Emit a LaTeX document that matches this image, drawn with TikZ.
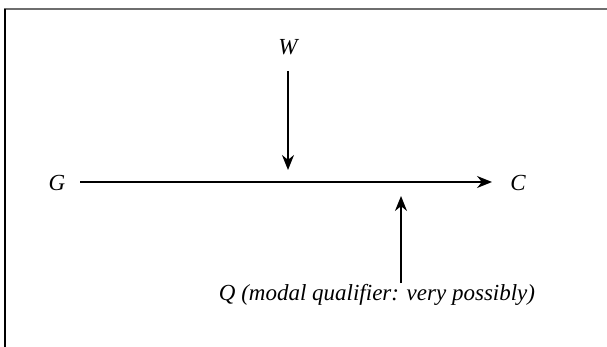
\documentclass[tikz,border=0pt]{standalone}
\usepackage{fontspec}
\setmainfont{Liberation Serif}
\usepackage{tikz}
\usetikzlibrary{arrows.meta}
\definecolor{framegray}{RGB}{110,110,110}

\begin{document}
\begin{tikzpicture}[x=1pt,y=-1pt,
  lbl/.style={font=\fontsize{23}{26}\selectfont\itshape,inner sep=0pt},
  arr/.style={line width=1.8pt,-{Stealth[length=15pt,width=12pt]}}]
\useasboundingbox (0,0) rectangle (607,347);

% frame
\draw[framegray,line width=1.4pt] (4,9) -- (607,9);
\draw[line width=1.2pt] (5,9) -- (5,347);

% claim line
\node[lbl] (G) at (57,183) {G};
\node[lbl] (C) at (518,183) {C};
\coordinate (Gs) at (80,182);
\coordinate (Ce) at (492,182);
\draw[arr] (Gs) -- (Ce);

% warrant
\node[lbl] (W) at (288,47) {W};
\coordinate (Ws) at (288,71);
\coordinate (We) at (288,170);
\draw[arr] (Ws) -- (We);

% qualifier
\node[lbl] (Q) at (377,295) {Q (modal qualifier: very possibly)};
\coordinate (Qs) at (401,283);
\coordinate (Qe) at (401,196);
\draw[arr] (Qs) -- (Qe);

\end{tikzpicture}
\end{document}
